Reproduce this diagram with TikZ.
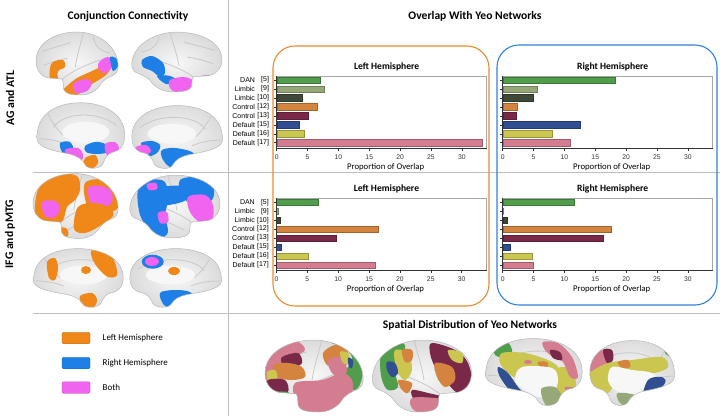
\documentclass[tikz,border=0pt]{standalone}
\usepackage{fontspec}
\setmainfont{Carlito}
\newfontfamily\arialfont{Liberation Sans}
\usetikzlibrary{positioning}
\definecolor{lhcol}{RGB}{240,135,25}
\definecolor{rhcol}{RGB}{30,128,230}
\definecolor{bothcol}{RGB}{240,100,240}
\definecolor{yeo1}{RGB}{80,158,75}
\definecolor{yeo2}{RGB}{150,168,120}
\definecolor{yeo3}{RGB}{62,74,55}
\definecolor{yeo4}{RGB}{212,132,62}
\definecolor{yeo5}{RGB}{122,40,72}
\definecolor{yeo6}{RGB}{48,78,145}
\definecolor{yeo7}{RGB}{202,198,80}
\definecolor{yeo8}{RGB}{212,125,145}
\definecolor{sepgray}{RGB}{190,190,190}
\definecolor{boxorange}{RGB}{232,140,50}
\definecolor{boxblue}{RGB}{50,130,220}
\tikzset{
  panel/.style={font=\bfseries\fontsize{11.6}{13}\selectfont},
  charttitle/.style={font=\bfseries\fontsize{9.6}{11}\selectfont},
  axistitle/.style={font=\fontsize{8.7}{10}\selectfont},
  ticklabel/.style={font=\arialfont\fontsize{6.8}{8}\selectfont, text=black!80, inner sep=0pt},
  catlabel/.style={font=\arialfont\fontsize{7}{8}\selectfont, anchor=east, inner sep=0pt},
  sepline/.style={draw=sepgray, line width=0.8pt},
  hemibox/.style={rounded corners=22pt, line width=1.1pt},
  plotframe/.style={draw=gray!70, line width=0.8pt},
  plotaxis/.style={draw=gray!40!black, line width=0.5pt},
  hbar/.style={draw=#1!75!black, line width=0.3pt, fill=#1},
  legendkey/.style={draw=#1!80!black, fill=#1, rounded corners=1.5pt, minimum width=28pt, minimum height=11.5pt, inner sep=0pt},
  legendtext/.style={font=\fontsize{9}{10}\selectfont, anchor=west},
  brainedge/.style={draw=gray!55, line width=0.5pt},
  sulcus/.style={draw=gray!42, line width=0.8pt, line cap=round},
}
% brain outlines, front on the left / on the right
\newcommand{\latpath}{(-50,-4) .. controls (-49,-24) and (-26,-36) .. (0,-36)
  .. controls (26,-36) and (48,-20) .. (50,0) .. controls (51,8) and (48,12) .. (43,14)
  .. controls (38,16) and (34,18) .. (30,22) .. controls (24,32) and (14,36) .. (5,36)
  .. controls (-5,36) and (-14,35) .. (-16,30) .. controls (-17,26) and (-16,21) .. (-18,18)
  .. controls (-24,17) and (-32,17) .. (-37,16) .. controls (-46,13) and (-50,6) .. (-50,-4) -- cycle}
\newcommand{\medpath}{(-48,-2) .. controls (-46,-24) and (-24,-34) .. (0,-34)
  .. controls (26,-34) and (48,-22) .. (49,-2) .. controls (50,10) and (44,17) .. (36,18)
  .. controls (31,19) and (27,24) .. (25,30) .. controls (22,36) and (8,37) .. (5,31)
  .. controls (2,25) and (-4,22) .. (-12,20) .. controls (-28,17) and (-45,14) .. (-48,6)
  .. controls (-49,3) and (-49,0) .. (-48,-2) -- cycle}
% grooves on the surface
\newcommand{\latsulci}{(-18,18) .. controls (-5,8) and (10,2) .. (28,-4)
  (8,-36) .. controls (4,-20) and (0,-10) .. (-2,4)
  (-10,27) .. controls (5,19) and (20,13) .. (38,5)
  (-42,-14) .. controls (-30,-18) and (-20,-20) .. (-8,-24)
  (-40,2) .. controls (-30,-2) and (-22,-4) .. (-12,-6)
  (20,-30) .. controls (22,-20) and (28,-14) .. (40,-12)}
\newcommand{\medsulci}{(-30,-8) .. controls (-20,-24) and (20,-26) .. (40,-10)
  (-46,4) .. controls (-35,4) and (-25,6) .. (-16,10)
  (-36,-22) .. controls (-32,-14) and (-26,-6) .. (-20,0)}
\newcommand{\blob}[2]{\fill[#1] plot[smooth cycle, tension=0.55] coordinates {#2};}
\newcommand{\medwall}[4]{\fill[gray!6, shift={(#1,#2)}, xscale=#3, yscale=#4] (6,-3) ellipse (26 and 11);}
\newcommand{\brain}[7]{%
  \begin{scope}
    \clip[shift={(#3,#4)}, xscale=#5, yscale=#6] #1;
    \shade[shift={(#3,#4)}, xscale=#5, yscale=#6, inner color=gray!6, outer color=gray!52] (0,0) ellipse (100 and 76);
    \draw[sulcus, shift={(#3,#4)}, xscale=#5, yscale=#6] #2;
    #7
  \end{scope}
  \draw[brainedge, shift={(#3,#4)}, xscale=#5, yscale=#6] #1;
}
% bar chart: name, x of zero, top of frame, title, values
\newcommand{\yeochart}[5]{%
  \draw[plotframe] (#2,#3) rectangle ({#2+210},{#3+72});
  \foreach \v [count=\i] in {#5} {
    \draw[hbar=yeo\i] (#2,{#3+0.7+(\i-1)*8.96}) rectangle ++({\v*6.17},6.6);
    \draw[plotaxis] (#2,{#3+4+(\i-1)*8.96}) -- ++(-2.5,0);
  }
  \draw[plotaxis] (#2,#3) -- (#2,{#3+72}) -- ({#2+210},{#3+72});
  \foreach \t in {0,5,...,30} {
    \draw[plotaxis] ({#2+\t*6.17},{#3+72}) -- ++(0,2.5);
    \node[ticklabel] (#1t\t) at ({#2+\t*6.17},{#3+81}) {\t};
  }
  \node[charttitle] (#1title) at ({#2+110},{#3-9.5}) {#4};
  \node[axistitle] (#1xlabel) at ({#2+109},{#3+91}) {Proportion of Overlap};
}
\newcommand{\yeolabels}[3]{%
  \foreach \net/\num [count=\i] in {DAN/5, Limbic/9, Limbic/10, Control/12, Control/13, Default/15, Default/16, Default/17} {
    \node[catlabel] (#1c\i) at ({#2-7.5},{#3+4+(\i-1)*8.96}) {[\num]};
    \node[catlabel] (#1n\i) at ({#2-21.5},{#3+4+(\i-1)*8.96}) {\net};
  }
}

\begin{document}
\begin{tikzpicture}[x=1pt, y=-1pt]
  \useasboundingbox (0,0) rectangle (720,416);
  \fill[white] (0,0) rectangle (720,416);

  % separators
  \draw[sepline] (228,0) -- (228,416);
  \draw[sepline] (33,172.5) -- (720,172.5);
  \draw[sepline] (33,313) -- (720,313);

  % headings
  \node[panel] (conj) at (128,16) {Conjunction Connectivity};
  \node[panel] (overlap) at (475,16) {Overlap With Yeo Networks};
  \node[panel] (spatial) at (470,325.5) {Spatial Distribution of Yeo Networks};
  \node[panel, rotate=90] (agatl) at (10,98) {AG and ATL};
  \node[panel, rotate=90] (ifgmtg) at (10,234) {IFG and pMTG};

  % AG and ATL
  \brain{\latpath}{\latsulci}{77}{63.5}{0.82}{0.875}{
    \blob{lhcol}{(53,62) (63,60) (65,67) (58,71) (58,78) (62,83) (56,85) (50,79) (50,68)}
    \blob{lhcol}{(67,86) (77,78) (90,72) (100,67) (107,61) (112,64) (107,74) (97,81) (87,87) (77,95) (66,96) (63,91)}
    \blob{bothcol}{(73,84) (85,79) (92,83) (87,91) (76,93)}
    \blob{bothcol}{(100,61) (108,57) (113,62) (110,70) (103,73) (98,67)}
    \blob{rhcol}{(110,57) (116,58) (118,66) (113,71) (111,64)}
  }
  \brain{\latpath}{\latsulci}{177}{62}{-0.9}{0.83}{
    \blob{rhcol}{(142,60) (152,56) (163,63) (165,73) (160,77) (152,71) (143,67)}
    \blob{rhcol}{(157,76) (170,76) (177,81) (166,84)}
    \blob{bothcol}{(170,80) (185,77) (196,83) (193,92) (178,93) (170,88)}
    \blob{bothcol}{(199,77) (210,75) (215,80) (203,84)}
  }
  \brain{\medpath}{\medsulci}{80.5}{135}{0.9}{0.95}{
    \medwall{80.5}{135}{0.9}{0.95}
    \blob{rhcol}{(60,143) (70,142) (73,150) (63,153)}
    \blob{rhcol}{(85,146) (95,142) (105,144) (108,152) (96,154) (86,152)}
    \blob{bothcol}{(65,150) (78,148) (83,155) (80,163) (70,162)}
    \blob{lhcol}{(85,158) (95,155) (98,163) (91,169) (84,165)}
    \blob{bothcol}{(105,144) (115,142) (119,148) (116,156) (107,155)}
  }
  \brain{\medpath}{\medsulci}{177.5}{136.5}{-0.93}{0.91}{
    \medwall{177.5}{136.5}{-0.93}{0.91}
    \blob{rhcol}{(141,143) (152,141) (160,145) (158,152) (150,156) (146,150)}
    \blob{bothcol}{(136,147) (146,145) (151,151) (144,156) (136,154)}
    \blob{rhcol}{(162,150) (175,148) (192,152) (195,160) (185,168) (170,167) (162,158)}
  }

  % IFG and pMTG
  \brain{\latpath}{\latsulci}{75.5}{206}{0.85}{0.9}{
    \blob{lhcol}{(38,190) (50,178) (67,174) (78,177) (80,190) (75,200) (67,207) (63,220) (53,226) (40,224) (35,210)}
    \blob{bothcol}{(42,202) (55,201) (60,208) (55,217) (45,216)}
    \blob{lhcol}{(85,183) (110,180) (117,195) (116,210) (90,210)}
    \blob{bothcol}{(88,188) (100,186) (111,191) (112,202) (105,207) (92,205)}
    \blob{lhcol}{(78,207) (95,203) (110,208) (113,216) (100,226) (85,233) (74,229)}
    \blob{lhcol}{(55,229) (66,228) (68,236) (58,239)}
  }
  \brain{\latpath}{\latsulci}{175}{206.5}{-0.9}{0.87}{
    \blob{rhcol}{(138,190) (150,180) (165,182) (168,200) (165,215) (168,232) (160,238) (150,230) (140,215)}
    \blob{rhcol}{(150,190) (182,186) (186,200) (160,205)}
    \blob{rhcol}{(180,180) (200,177) (213,185) (212,200) (195,205) (182,196)}
    \blob{bothcol}{(188,197) (205,195) (213,205) (212,220) (200,222) (190,212)}
    \blob{bothcol}{(158,213) (167,212) (168,222) (160,223)}
    \blob{bothcol}{(147,184) (156,183) (157,189) (149,190)}
  }
  \brain{\medpath}{\medsulci}{78}{277.5}{0.92}{0.85}{
    \medwall{78}{277.5}{0.92}{0.85}
    \blob{lhcol}{(92,250) (105,249) (114,260) (117,275) (108,277) (98,268) (92,258)}
    \fill[lhcol] (86,270) ellipse (5 and 4);
    \blob{lhcol}{(47,262) (55,258) (58,268) (55,280) (49,278)}
    \blob{lhcol}{(80,296) (92,293) (97,300) (93,308) (83,306)}
  }
  \brain{\medpath}{\medsulci}{176}{277.5}{-0.94}{0.85}{
    \medwall{176}{277.5}{-0.94}{0.85}
    \fill[rhcol] (152.7,261.7) ellipse (11 and 7);
    \fill[bothcol] (152,261.5) ellipse (7 and 4.5);
    \fill[lhcol] (174,271) ellipse (6 and 4);
    \blob{rhcol}{(160,293) (175,290) (190,292) (193,300) (180,308) (165,306)}
    \blob{rhcol}{(213,258) (219,256) (220,263)}
  }

  % legend
  \node[legendkey=lhcol] (keyleft) at (76,338) {};
  \node[legendtext, right=9pt of keyleft] (txtleft) {Left Hemisphere};
  \node[legendkey=rhcol] (keyright) at (76,363) {};
  \node[legendtext, right=9pt of keyright] (txtright) {Right Hemisphere};
  \node[legendkey=bothcol] (keyboth) at (76,387.5) {};
  \node[legendtext, right=9pt of keyboth] (txtboth) {Both};

  % overlap boxes and charts
  \draw[hemibox, boxorange] (273,46) rectangle (489,306);
  \draw[hemibox, boxblue] (497,45) rectangle (717,305);
  \yeochart{tl}{276.7}{76}{Left Hemisphere}{7.05,7.7,4.15,6.6,5.1,3.6,4.5,33.3}
  \yeolabels{tl}{276.7}{76}
  \yeochart{tr}{502.7}{76}{Right Hemisphere}{18.15,5.55,4.95,2.3,2.2,12.5,8.0,10.9}
  \yeochart{bl}{276.5}{198.3}{Left Hemisphere}{6.8,0.2,0.65,16.5,9.7,0.7,5.2,16.05}
  \yeolabels{bl}{276.5}{198.3}
  \yeochart{br}{502.7}{198.3}{Right Hemisphere}{11.5,0,0.65,17.6,16.3,1.2,4.7,4.9}

  % Yeo networks on the surface
  \brain{\latpath}{\latsulci}{314}{376}{0.98}{1}{
    \blob{yeo1}{(332,343) (345,340) (358,350) (363,370) (358,388) (345,390) (338,377) (348,367) (352,357) (343,347)}
    \blob{yeo8}{(265,373) (270,355) (282,345) (298,342) (305,350) (295,357) (288,367) (287,377) (278,380) (268,383)}
    \blob{yeo5}{(282,357) (298,353) (302,363) (292,368) (283,365)}
    \blob{yeo4}{(273,365) (288,363) (302,367) (305,377) (292,380) (278,377)}
    \blob{yeo7}{(267,372) (275,370) (277,378) (268,380)}
    \blob{yeo5}{(268,380) (285,380) (288,392) (275,395) (268,390)}
    \blob{yeo1}{(272,392) (288,392) (287,397) (275,397)}
    \blob{yeo8}{(295,383) (322,380) (342,373) (352,380) (352,393) (342,407) (322,413) (302,411) (295,400)}
    \blob{yeo4}{(323,353) (335,345) (347,350) (348,363) (338,367) (327,365)}
    \blob{yeo8}{(328,360) (342,357) (347,370) (342,377) (332,373)}
    \blob{yeo7}{(340,352) (348,353) (350,363) (343,363)}
    \blob{yeo6}{(348,358) (353,360) (352,368) (349,367)}
  }
  \brain{\latpath}{\latsulci}{422}{376}{-0.99}{1}{
    \blob{yeo1}{(383,350) (395,342) (405,345) (402,357) (395,370) (398,387) (388,390) (382,380) (380,363)}
    \blob{yeo7}{(395,350) (408,353) (412,370) (405,380) (398,373) (395,363)}
    \blob{yeo6}{(387,362) (395,363) (398,373) (392,377) (387,370)}
    \blob{yeo4}{(402,350) (412,350) (412,360) (405,362)}
    \blob{yeo5}{(432,343) (455,350) (468,363) (472,387) (458,393) (445,380) (435,367) (430,353)}
    \blob{yeo7}{(448,350) (462,353) (462,363) (452,360)}
    \blob{yeo4}{(435,363) (452,367) (455,380) (445,387) (437,377)}
    \blob{yeo4}{(398,380) (412,383) (408,393) (402,390)}
    \blob{yeo5}{(412,390) (428,393) (442,397) (435,403) (415,400)}
    \blob{yeo8}{(412,398) (442,399) (455,407) (442,413) (415,411)}
  }
  \brain{\medpath}{\medsulci}{533.5}{371.5}{0.99}{0.97}{
    \blob{yeo1}{(495,347) (508,343) (512,353) (502,357) (495,355)}
    \blob{yeo7}{(502,353) (525,353) (548,360) (558,367) (553,371) (532,371) (518,378) (508,373) (500,363)}
    \blob{yeo7}{(552,370) (568,367) (575,377) (575,393) (565,397) (555,390) (553,380)}
    \blob{yeo8}{(543,342) (558,343) (572,357) (578,377) (570,377) (563,362) (553,357) (545,350)}
    \blob{yeo5}{(550,350) (560,352) (562,360) (553,358)}
    \blob{yeo4}{(538,362) (547,362) (547,368) (540,367)}
    \fill[yeo8] (528,362) ellipse (4 and 2);
    \blob{yeo6}{(498,367) (508,373) (518,387) (528,397) (525,402) (512,393) (500,377)}
    \blob{gray!6}{(522,367) (552,368) (558,380) (553,393) (538,397) (525,390) (515,380)}
    \blob{yeo2}{(542,388) (555,387) (562,397) (558,406) (547,406) (542,397)}
    \blob{yeo8}{(565,387) (575,388) (573,393) (567,393)}
  }
  \brain{\medpath}{\medsulci}{632.5}{372.5}{-0.87}{0.94}{
    \blob{yeo8}{(590,360) (602,350) (608,353) (605,373) (595,377) (590,370)}
    \blob{yeo5}{(603,350) (612,350) (613,360) (607,363)}
    \blob{yeo7}{(590,373) (608,363) (632,360) (662,357) (668,367) (655,373) (635,373) (618,380) (608,393) (595,393) (590,383)}
    \blob{yeo4}{(618,362) (628,360) (630,367) (622,368)}
    \blob{gray!6}{(612,367) (632,370) (652,373) (657,383) (648,393) (632,395) (615,390) (608,380)}
    \blob{yeo1}{(665,343) (675,350) (672,357) (665,353)}
    \blob{yeo6}{(648,380) (662,377) (665,383) (652,397) (642,400)}
    \blob{yeo2}{(618,393) (635,395) (638,403) (625,406) (618,400)}
  }
\end{tikzpicture}
\end{document}
